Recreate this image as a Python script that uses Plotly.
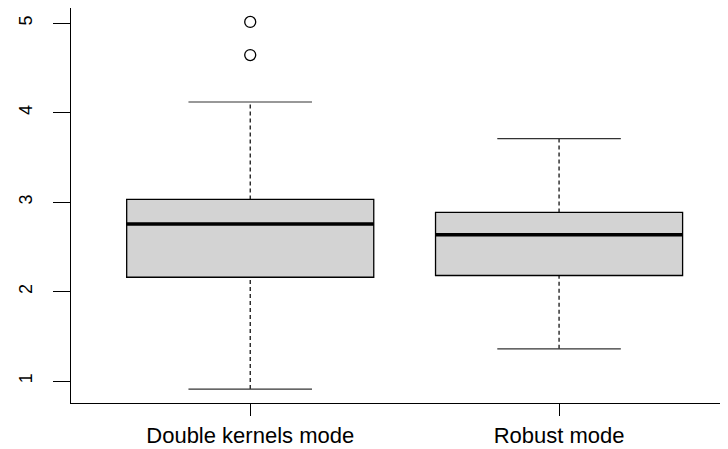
import plotly.graph_objects as go

categories = ["Double kernels mode", "Robust mode"]
positions = [1, 2]
lower_whisker = [0.91, 1.36]
q1 = [2.16, 2.18]
median = [2.755, 2.635]
q3 = [3.03, 2.885]
upper_whisker = [4.12, 3.71]
outlier_group = [0, 0]
outlier_values = [4.645, 5.015]
y_ticks = [1, 2, 3, 4, 5]

BOX_W = 0.8
CAP_W = 0.4

fig = go.Figure()

# boxes (no whiskers; whiskers drawn separately as dashed lines, R style)
fig.add_trace(go.Box(
    x=positions, q1=q1, median=median, q3=q3,
    lowerfence=q1, upperfence=q3,
    width=BOX_W, fillcolor="#D3D3D3",
    line=dict(color="black", width=1.3),
    boxpoints=False, hoverinfo="skip", showlegend=False,
))

wx, wy, cx, cy, mx, my = [], [], [], [], [], []
for i, p in enumerate(positions):
    wx += [p, p, None, p, p, None]
    wy += [lower_whisker[i], q1[i], None, q3[i], upper_whisker[i], None]
    cx += [p - CAP_W / 2, p + CAP_W / 2, None, p - CAP_W / 2, p + CAP_W / 2, None]
    cy += [lower_whisker[i], lower_whisker[i], None, upper_whisker[i], upper_whisker[i], None]
    mx += [p - BOX_W / 2, p + BOX_W / 2, None]
    my += [median[i], median[i], None]

fig.add_trace(go.Scatter(x=wx, y=wy, mode="lines",
                         line=dict(color="black", width=1.2, dash="4px,3px"),
                         hoverinfo="skip", showlegend=False))
fig.add_trace(go.Scatter(x=cx, y=cy, mode="lines",
                         line=dict(color="#333333", width=1.2),
                         hoverinfo="skip", showlegend=False))
fig.add_trace(go.Scatter(x=mx, y=my, mode="lines",
                         line=dict(color="black", width=3.5),
                         hoverinfo="skip", showlegend=False))
fig.add_trace(go.Scatter(x=[positions[g] for g in outlier_group], y=outlier_values,
                         mode="markers",
                         marker=dict(symbol="circle-open", size=11,
                                     color="black", line=dict(width=1.3)),
                         hoverinfo="skip", showlegend=False))

# the page body adds an 8px offset, so the figure is 720x441
fig.update_layout(
    width=720, height=441,
    margin=dict(l=63, r=0, t=0, b=46),
    paper_bgcolor="white", plot_bgcolor="white",
    font=dict(family="Liberation Sans, Arial, sans-serif", color="black"),
)
fig.update_xaxes(
    range=[0.4197, 2.547], tickvals=positions, ticktext=categories,
    showline=True, mirror=True, linecolor="black", linewidth=1.3,
    ticks="outside", ticklen=12, tickwidth=1.3, tickcolor="black",
    showgrid=False, zeroline=False, tickfont=dict(size=22),
    ticklabelstandoff=0, automargin=False,
)
fig.update_yaxes(
    range=[0.754, 5.171], tickvals=y_ticks,
    showline=True, mirror=False, linecolor="black", linewidth=1.3,
    ticks="outside", ticklen=17, tickwidth=1.3, tickcolor="black",
    showgrid=False, zeroline=False, tickangle=-90, tickfont=dict(size=18),
    ticklabelstandoff=14, automargin=False,
)

fig.write_html("out.html")
